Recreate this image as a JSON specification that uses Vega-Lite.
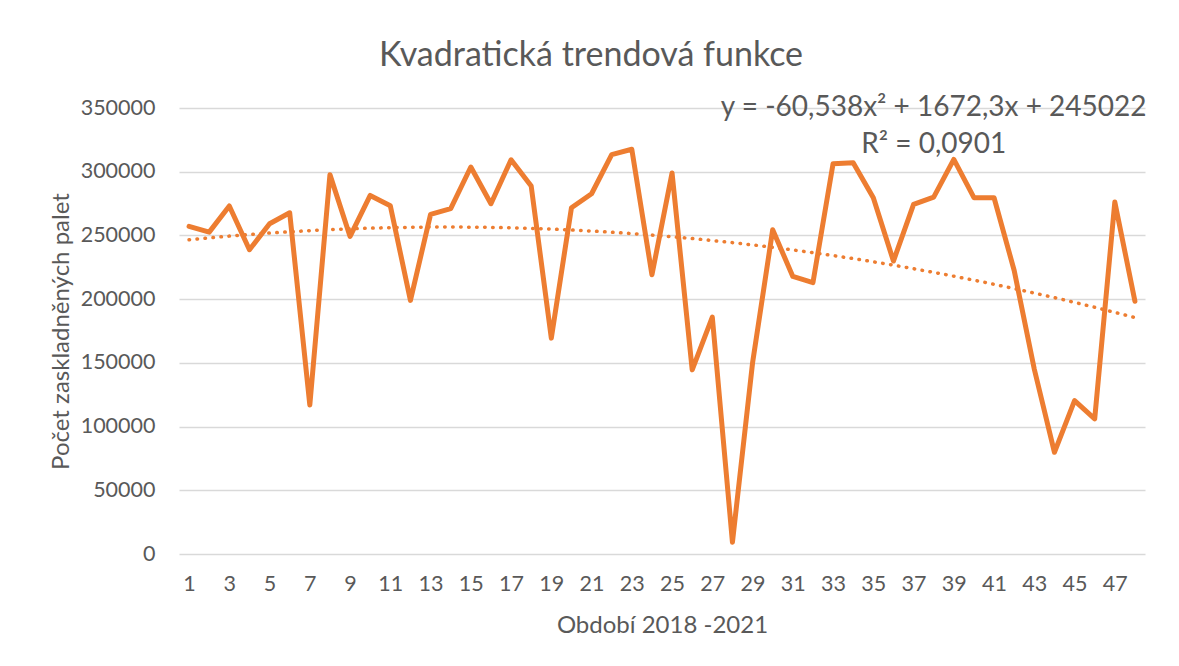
{
  "$schema": "https://vega.github.io/schema/vega-lite/v6.json",
  "width": 966,
  "height": 446,
  "autosize": {"type": "none"},
  "padding": {"left": 179, "top": 108, "right": 34, "bottom": 112},
  "background": "white",
  "title": {
    "text": "Kvadratická trendová funkce",
    "font": "Lato",
    "fontSize": 34,
    "fontWeight": "normal",
    "color": "#595959",
    "anchor": "middle",
    "frame": "group",
    "baseline": "alphabetic",
    "offset": -6,
    "dx": -71
  },
  "data": {
    "values": [
      {"obdobi": 1, "palety": 257100},
      {"obdobi": 2, "palety": 252600},
      {"obdobi": 3, "palety": 273100},
      {"obdobi": 4, "palety": 238800},
      {"obdobi": 5, "palety": 259200},
      {"obdobi": 6, "palety": 267800},
      {"obdobi": 7, "palety": 117000},
      {"obdobi": 8, "palety": 297700},
      {"obdobi": 9, "palety": 249200},
      {"obdobi": 10, "palety": 281400},
      {"obdobi": 11, "palety": 273300},
      {"obdobi": 12, "palety": 199000},
      {"obdobi": 13, "palety": 266500},
      {"obdobi": 14, "palety": 271000},
      {"obdobi": 15, "palety": 303700},
      {"obdobi": 16, "palety": 274900},
      {"obdobi": 17, "palety": 309400},
      {"obdobi": 18, "palety": 288800},
      {"obdobi": 19, "palety": 169400},
      {"obdobi": 20, "palety": 271700},
      {"obdobi": 21, "palety": 282700},
      {"obdobi": 22, "palety": 313400},
      {"obdobi": 23, "palety": 317600},
      {"obdobi": 24, "palety": 219100},
      {"obdobi": 25, "palety": 299000},
      {"obdobi": 26, "palety": 144500},
      {"obdobi": 27, "palety": 185900},
      {"obdobi": 28, "palety": 9200},
      {"obdobi": 29, "palety": 150000},
      {"obdobi": 30, "palety": 254500},
      {"obdobi": 31, "palety": 217800},
      {"obdobi": 32, "palety": 213000},
      {"obdobi": 33, "palety": 306300},
      {"obdobi": 34, "palety": 307000},
      {"obdobi": 35, "palety": 279600},
      {"obdobi": 36, "palety": 229900},
      {"obdobi": 37, "palety": 274400},
      {"obdobi": 38, "palety": 280100},
      {"obdobi": 39, "palety": 309700},
      {"obdobi": 40, "palety": 279600},
      {"obdobi": 41, "palety": 279600},
      {"obdobi": 42, "palety": 222500},
      {"obdobi": 43, "palety": 145000},
      {"obdobi": 44, "palety": 79800},
      {"obdobi": 45, "palety": 120400},
      {"obdobi": 46, "palety": 106000},
      {"obdobi": 47, "palety": 276200},
      {"obdobi": 48, "palety": 198400}
    ]
  },
  "encoding": {
    "x": {
      "field": "obdobi",
      "type": "quantitative",
      "scale": {"domain": [0.5, 48.5], "nice": false, "zero": false},
      "axis": {
        "values": [1, 3, 5, 7, 9, 11, 13, 15, 17, 19, 21, 23, 25, 27, 29, 31, 33, 35, 37, 39, 41, 43, 45, 47],
        "grid": false,
        "ticks": false,
        "domain": false,
        "labelFlush": false,
        "labelPadding": 19,
        "title": "Období 2018 -2021",
        "titlePadding": 19
      }
    },
    "y": {
      "field": "palety",
      "type": "quantitative",
      "scale": {"domain": [0, 350000], "nice": false},
      "axis": {
        "values": [0, 50000, 100000, 150000, 200000, 250000, 300000, 350000],
        "format": "d",
        "grid": true,
        "ticks": false,
        "domain": false,
        "labelPadding": 24,
        "title": "Počet zaskladněných palet",
        "titlePadding": 7
      }
    }
  },
  "layer": [
    {
      "mark": {"type": "line", "color": "#ED7D31", "strokeWidth": 5, "strokeJoin": "round", "strokeCap": "round"}
    },
    {
      "transform": [{"regression": "palety", "on": "obdobi", "method": "poly", "order": 2}],
      "mark": {"type": "line", "color": "#ED7D31", "strokeWidth": 3.5, "strokeDash": [0.5, 7.5], "strokeCap": "round"}
    },
    {
      "data": {"values": [{"label": "y = -60,538x² + 1672,3x + 245022", "px": 38, "py": 350000}]},
      "mark": {"type": "text", "font": "Lato", "fontSize": 28, "color": "#595959", "align": "center", "baseline": "middle"},
      "encoding": {
        "x": {"field": "px", "type": "quantitative"},
        "y": {"field": "py", "type": "quantitative"},
        "text": {"field": "label"}
      }
    },
    {
      "data": {"values": [{"label": "R² = 0,0901", "px": 38, "py": 320700}]},
      "mark": {"type": "text", "font": "Lato", "fontSize": 28, "color": "#595959", "align": "center", "baseline": "middle"},
      "encoding": {
        "x": {"field": "px", "type": "quantitative"},
        "y": {"field": "py", "type": "quantitative"},
        "text": {"field": "label"}
      }
    }
  ],
  "config": {
    "font": "Lato",
    "view": {"stroke": null},
    "axis": {
      "labelFont": "Lato",
      "labelFontSize": 21.5,
      "labelColor": "#595959",
      "titleFont": "Lato",
      "titleFontSize": 24,
      "titleFontWeight": "normal",
      "titleColor": "#595959",
      "gridColor": "#D9D9D9",
      "gridWidth": 1.3
    }
  }
}
